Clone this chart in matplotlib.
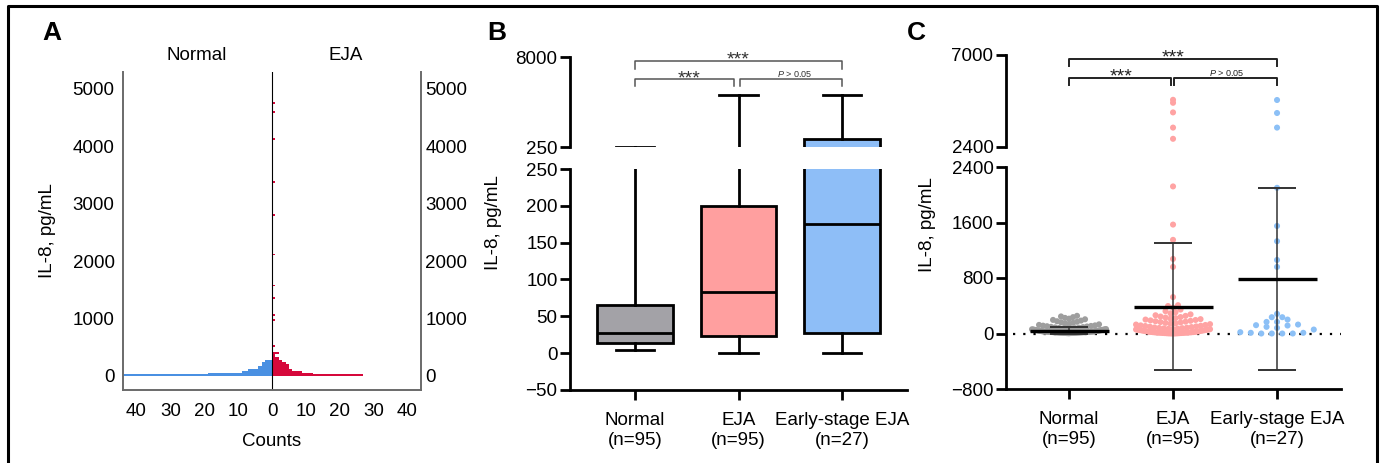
import numpy as np
import matplotlib
matplotlib.use("Agg")
import matplotlib.pyplot as plt
from matplotlib.lines import Line2D
from matplotlib.transforms import blended_transform_factory

plt.rcParams["font.family"] = ["Liberation Sans", "DejaVu Sans"]
plt.rcParams["mathtext.fontset"] = "custom"
plt.rcParams["mathtext.rm"] = "Liberation Sans"
plt.rcParams["mathtext.it"] = "Liberation Sans:italic"

# ── data (IL-8, pg/mL) ─────────────────────────────────────────
normal_values = [
    4, 5, 6, 6, 7, 8, 8, 9, 9, 10, 11, 11, 12, 12, 13, 13, 14, 14, 15, 15,
    16, 16, 17, 17, 18, 18, 19, 20, 20, 21, 21, 22, 23, 23, 24, 25, 25, 26,
    27, 27, 28, 28, 29, 29,
    31, 32, 34, 35, 37, 38, 40, 41, 43, 44, 46, 47, 49, 51, 52, 54, 56, 57, 59,
    61, 64, 67, 70, 73, 76, 80, 84, 88,
    92, 96, 101, 105, 109, 113, 117,
    124, 132, 139, 146, 154, 162, 169, 177, 186, 196, 205, 214, 225, 236,
    246, 255,
]
eja_values = [
    0, 0, 1, 1, 2, 3, 4, 5, 6, 7, 8, 9, 10, 11, 12, 13, 14, 15, 16, 17, 19,
    20, 22, 23, 25, 27, 29,
    32, 34, 37, 39, 42, 44, 47, 49, 52, 54, 56, 58,
    62, 65, 68, 71, 74, 77, 80, 84, 87,
    93, 98, 103, 108, 112, 117,
    123, 129, 135, 141, 147, 153, 159, 165, 171, 177,
    183, 189, 195, 201, 207, 214, 222, 230, 237, 245, 254, 263,
    276, 291, 306, 322, 345, 372, 396, 408,
    525, 960, 1075, 1350, 1570, 2120, 2810, 3370, 4130, 4610, 4760,
]
early_values = [
    0, 0, 0, 0, 10, 10, 19, 57, 81, 96, 115, 120, 129, 167, 167, 201, 235,
    235, 283, 960, 1060, 1330, 1550, 2100, 3370, 4100, 4750,
]

group_labels = ["Normal\n(n=95)", "EJA\n(n=95)", "Early-stage EJA\n(n=27)"]
box_q1 = [14, 23, 27]
box_med = [27, 83, 175]
box_q3 = [65, 200, 940]
box_lo = [4, 0, 0]
box_hi = [255, 4730, 4730]
mean_vals = [43, 388, 790]
sd_vals = [57, 920, 1310]

hist_bin = 30
sig_labels = ["***", "***", "$P$ > 0.05"]

# ── colours ────────────────────────────────────────────────────
HIST_BLUE, HIST_RED = "#4a90e2", "#d6083b"
BOX_COLORS = ["#a3a2a7", "#ff9f9f", "#8ebef7"]
DOT_COLORS = ["#9e9e9e", "#ffa3a3", "#8cc0f6"]

W, H = 1380, 463
fig = plt.figure(figsize=(W / 100, H / 100), dpi=100)
FS = 13.5


def px_axes(left, top, right, bottom):
    return fig.add_axes([left / W, 1 - bottom / H, (right - left) / W,
                         (bottom - top) / H])


def fy(y):
    return 1 - y / H


def ftext(x, y, s, **kw):
    fig.text(x / W, fy(y), s, **kw)


def spread(values, ax, row_px, gap_px, half_w):
    """Scatter-dot layout: values in the same pixel row are spread
    side by side, centred, squeezed to fit inside +/- half_w."""
    bb = ax.get_position()
    y0, y1 = ax.get_ylim()
    x0, x1 = ax.get_xlim()
    ypx = bb.height * H / (y1 - y0)
    xpx = bb.width * W / (x1 - x0)
    vals = np.asarray(values, float)
    rows = np.floor((vals - y0) * ypx / row_px).astype(int)
    offs = np.zeros(len(vals))
    for r in np.unique(rows):
        idx = np.where(rows == r)[0]
        idx = idx[np.argsort(vals[idx], kind="stable")]
        n = len(idx)
        if n == 1:
            continue
        step = min(gap_px, 2 * half_w / (n - 1))
        # alternate around the centre so low / high values interleave
        slots = (np.arange(n) - (n - 1) / 2) * step
        order = np.argsort(np.abs(slots), kind="stable")
        offs[idx] = slots[order] / xpx
    return offs


def bracket(ax, x1, x2, y, leg, color, lw):
    tr = blended_transform_factory(ax.transData, fig.transFigure)
    ax.add_line(Line2D([x1, x1, x2, x2], [fy(y + leg), fy(y), fy(y), fy(y + leg)],
                       transform=tr, clip_on=False, color=color, lw=lw))


def btext(ax, x, y, s, size, color):
    tr = blended_transform_factory(ax.transData, fig.transFigure)
    ax.text(x, fy(y), s, transform=tr, ha="center", va="baseline",
            fontsize=size, color=color, clip_on=False)


def style_broken(ax_up, ax_lo, xlim):
    for ax in (ax_up, ax_lo):
        ax.set_xlim(*xlim)
        for side in ("top", "right"):
            ax.spines[side].set_visible(False)
        for side in ("left", "bottom"):
            ax.spines[side].set_linewidth(2.0)
        ax.tick_params(width=2.0, length=7, labelsize=FS, pad=2, colors="black")
    ax_up.spines["bottom"].set_visible(False)
    ax_up.set_xticks([])
    ax_lo.set_xticks(range(len(group_labels)))
    ax_lo.set_xticklabels(group_labels, linespacing=1.2)
    ax_lo.tick_params(axis="x", pad=9)


# ═══════════════ PANEL A: mirrored histogram ═══════════════════
axA = px_axes(123, 72, 421, 390)
edges = np.arange(0, 4800 + hist_bin + 1, hist_bin)
n_counts, _ = np.histogram(normal_values, edges)
e_counts, _ = np.histogram(eja_values, edges)
axA.barh(edges[:-1], -n_counts, height=hist_bin, align="edge", color=HIST_BLUE, lw=0)
axA.barh(edges[:-1], e_counts, height=hist_bin, align="edge", color=HIST_RED, lw=0)
axA.axvline(0, color="black", lw=0.8)
axA.set_xlim(-44, 44)
axA.set_ylim(-244, 5296)
xt = np.arange(-40, 41, 10)
axA.set_xticks(xt)
axA.set_xticklabels([str(abs(v)) for v in xt])
axA.set_yticks(range(0, 5001, 1000))
axA.spines["top"].set_visible(False)
for side in ("left", "right", "bottom"):
    axA.spines[side].set_color("#6a6a6a")
    axA.spines[side].set_linewidth(1.4)
axA.tick_params(length=0, labelsize=FS)
axA.tick_params(axis="y", pad=6)
axA.tick_params(axis="x", pad=9)
axA2 = axA.twinx()
axA2.set_ylim(axA.get_ylim())
axA2.set_yticks(range(0, 5001, 1000))
axA2.tick_params(length=0, labelsize=FS, pad=3)
for side in ("top", "left", "bottom", "right"):
    axA2.spines[side].set_visible(False)
ftext(197, 56, "Normal", fontsize=FS, ha="center", va="center")
ftext(346, 56, "EJA", fontsize=FS, ha="center", va="center")
ftext(272, 441, "Counts", fontsize=FS, ha="center", va="center")
ftext(47, 231, "IL-8, pg/mL", fontsize=FS, ha="center", va="center", rotation=90)

# ═══════════════ PANEL B: broken-axis box plot ═════════════════
axBu = px_axes(570, 57, 907, 147)
axBl = px_axes(570, 169, 907, 390)
stats = [dict(q1=a, med=b, q3=c, whislo=d, whishi=e)
         for a, b, c, d, e in zip(box_q1, box_med, box_q3, box_lo, box_hi)]
line_kw = dict(color="black", lw=2.0)
for ax in (axBu, axBl):
    bp = ax.bxp(stats, positions=range(3), widths=0.73, capwidths=0.37,
                patch_artist=True, showfliers=False, manage_ticks=False,
                boxprops=dict(lw=2.0, edgecolor="black"),
                medianprops=line_kw, whiskerprops=line_kw, capprops=line_kw)
    for patch, col in zip(bp["boxes"], BOX_COLORS):
        patch.set_facecolor(col)
axBu.set_ylim(250, 8000)
axBu.set_yticks([250, 8000])
axBl.set_ylim(-50, 250)
axBl.set_yticks(range(-50, 251, 50))
style_broken(axBu, axBl, (-0.63, 2.63))
ftext(493, 223, "IL-8, pg/mL", fontsize=FS, ha="center", va="center", rotation=90)

bracket(axBu, 0, 2, 60.7, 8.5, "#555555", 1.1)
bracket(axBu, 0, 0.957, 79.3, 7, "#555555", 1.1)
bracket(axBu, 1.014, 2, 79.3, 7, "#555555", 1.1)
btext(axBu, 1.0, 64.5, sig_labels[0], 14, "#333333")
btext(axBu, 0.52, 83, sig_labels[1], 14, "#333333")
btext(axBu, 1.54, 77.3, sig_labels[2], 6.5, "#333333")

# ═══════════════ PANEL C: broken-axis dot plot ═════════════════
axCu = px_axes(1006, 55, 1341, 147)
axCl = px_axes(1006, 167, 1341, 389)
axCu.set_ylim(2400, 7000)
axCu.set_yticks([2400, 7000])
axCl.set_ylim(-800, 2400)
axCl.set_yticks(range(-800, 2401, 800))
style_broken(axCu, axCl, (-0.606, 2.615))
axCl.axhline(0, xmin=0.02, xmax=1.0, color="black", lw=1.6,
             linestyle=(0, (1, 3.6)), zorder=1)

groups = [normal_values, eja_values, early_values]
dot_gap = [4, 5, 10.5]
for pos, (vals, col, gap) in enumerate(zip(groups, DOT_COLORS, dot_gap)):
    vals = np.asarray(vals, float)
    for ax, mask in ((axCl, vals <= 2400), (axCu, vals > 2400)):
        sub = vals[mask]
        if len(sub) == 0:
            continue
        offs = spread(sub, ax, 5, gap, 37)
        ax.scatter(pos + offs, sub, s=19, color=col, edgecolors="none", zorder=2)

positions = np.arange(3)
axCl.errorbar(positions, mean_vals, yerr=sd_vals, fmt="none", ecolor="#333333",
              elinewidth=1.1, capsize=13.5, capthick=1.4, zorder=3)
axCl.hlines(mean_vals, positions - 0.38, positions + 0.38, color="black",
            lw=2.4, zorder=4)
ftext(927, 225, "IL-8, pg/mL", fontsize=FS, ha="center", va="center", rotation=90)

bracket(axCu, 0, 2, 59, 7, "#222222", 1.4)
bracket(axCu, 0, 0.98, 77.7, 7.3, "#222222", 1.4)
bracket(axCu, 1.01, 2, 77.7, 7.3, "#222222", 1.4)
btext(axCu, 1.0, 62.5, sig_labels[0], 14, "#222222")
btext(axCu, 0.5, 81.5, sig_labels[1], 14, "#222222")
btext(axCu, 1.52, 75.6, sig_labels[2], 6.5, "#222222")

# ── panel letters and frame ────────────────────────────────────
for x, letter in ((52, "A"), (497, "B"), (916, "C")):
    ftext(x, 33, letter, fontsize=19, fontweight="bold", ha="center", va="center")
frame = Line2D([8 / W, 8 / W, 1377 / W, 1377 / W], [fy(470), fy(6), fy(6), fy(470)],
               transform=fig.transFigure, color="black", lw=2.2)
fig.add_artist(frame)

fig.savefig("out.png", dpi=100)
